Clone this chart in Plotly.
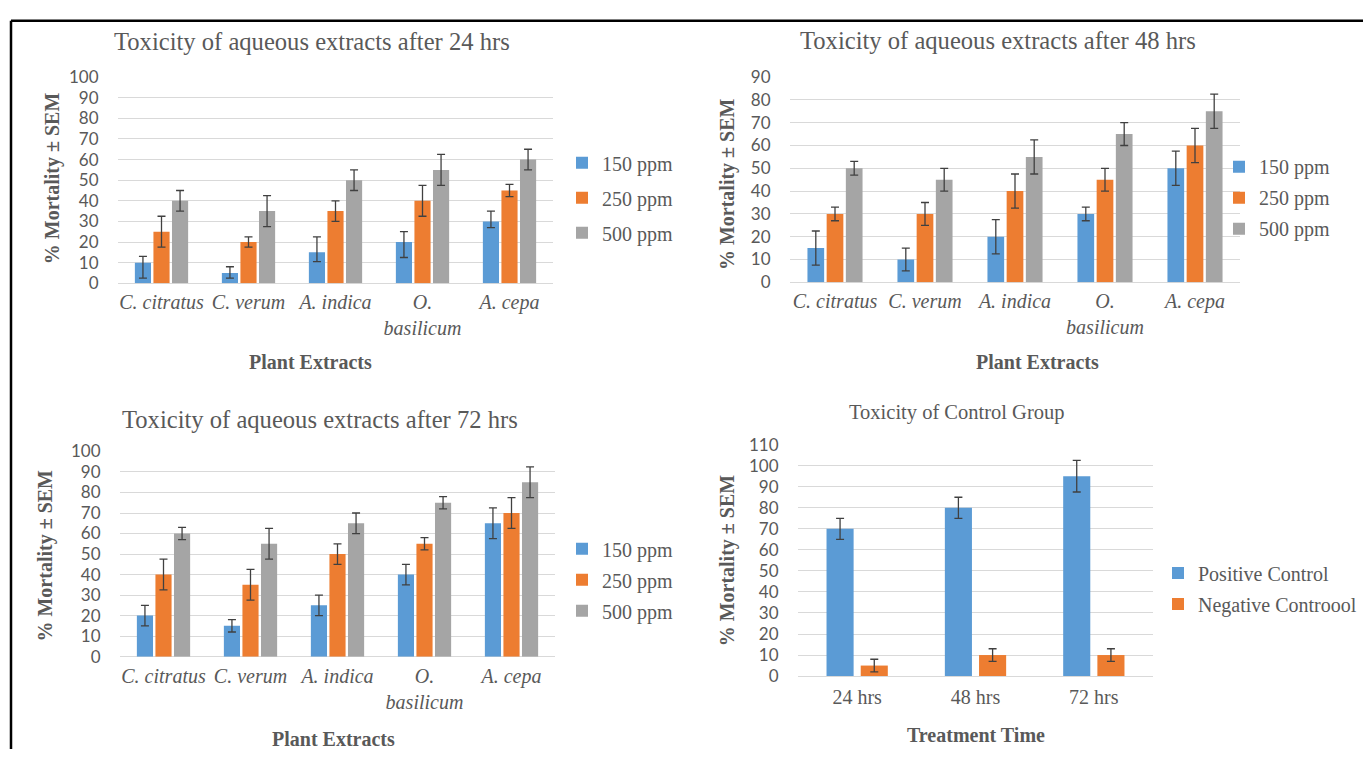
import plotly.graph_objects as go

W, H = 1363, 759

# ---------------- data ----------------
plants = ["C. citratus", "C. verum", "A. indica", "O.<br>basilicum", "A. cepa"]
doses = ["150 ppm", "250 ppm", "500 ppm"]

m24_150 = [10, 5, 15, 20, 30]
m24_250 = [25, 20, 35, 40, 45]
m24_500 = [40, 35, 50, 55, 60]
e24_150_plus = [3, 3, 7.5, 5, 5]
e24_150_minus = [7.5, 2.5, 4.5, 7.5, 3]
e24_250 = [7.5, 2.5, 5, 7.5, 3]
e24_500 = [5, 7.5, 5, 7.5, 5]

m48_150 = [15, 10, 20, 30, 50]
m48_250 = [30, 30, 40, 45, 60]
m48_500 = [50, 45, 55, 65, 75]
e48_150 = [7.5, 5, 7.5, 3, 7.5]
e48_250 = [3, 5, 7.5, 5, 7.5]
e48_500 = [3, 5, 7.5, 5, 7.5]

m72_150 = [20, 15, 25, 40, 65]
m72_250 = [40, 35, 50, 55, 70]
m72_500 = [60, 55, 65, 75, 85]
e72_150 = [5, 3, 5, 5, 7.5]
e72_250 = [7.5, 7.5, 5, 3, 7.5]
e72_500 = [3, 7.5, 5, 3, 7.5]

times = ["24 hrs", "48 hrs", "72 hrs"]
pos_ctrl = [70, 80, 95]
pos_err = [5, 5, 7.5]
neg_ctrl = [5, 10, 10]
neg_err = [3, 3, 3]

# ---------------- style ----------------
BLUE, ORANGE, GRAY = "#5B9BD5", "#ED7D31", "#A5A5A5"
TXT = "#595959"
GRID = "#D9D9D9"
SERIF = "Liberation Serif"
SANS = "Lato"


def px(x):
    return x / W


def py(y):
    return 1 - y / H


def err(arr, minus=None):
    d = dict(type="data", array=arr, color="#404040", thickness=1.3, width=4, visible=True)
    if minus is not None:
        d["symmetric"] = False
        d["arrayminus"] = minus
    return d


fig = go.Figure()

panels = [
    (1, [m24_150, m24_250, m24_500], [err(e24_150_plus, e24_150_minus), err(e24_250), err(e24_500)], "legend"),
    (2, [m48_150, m48_250, m48_500], [err(e48_150), err(e48_250), err(e48_500)], "legend2"),
    (3, [m72_150, m72_250, m72_500], [err(e72_150), err(e72_250), err(e72_500)], "legend3"),
]
colors = [BLUE, ORANGE, GRAY]
for idx, vals, errs, lg in panels:
    ax = "" if idx == 1 else str(idx)
    for name, v, e, c in zip(doses, vals, errs, colors):
        fig.add_trace(go.Bar(x=plants, y=v, name=name, marker=dict(color=c, line=dict(width=0)),
                             error_y=e, xaxis="x" + ax, yaxis="y" + ax, legend=lg,
                             legendgroup=lg + name))

# control group
fig.add_trace(go.Bar(x=times, y=pos_ctrl, name="Positive Control", marker=dict(color=BLUE, line=dict(width=0)),
                     error_y=err(pos_err), xaxis="x4", yaxis="y4", legend="legend4",
                     width=0.229, offset=-0.259, legendgroup="pc"))
fig.add_trace(go.Bar(x=times, y=neg_ctrl, name="Negative Controool", marker=dict(color=ORANGE, line=dict(width=0)),
                     error_y=err(neg_err), xaxis="x4", yaxis="y4", legend="legend4",
                     width=0.229, offset=0.03, legendgroup="nc"))

# ---------------- axes ----------------
xtick_it = dict(family=SERIF, size=20, color=TXT, style="italic")
xtick_up = dict(family=SERIF, size=20, color=TXT)
ytick = dict(family=SANS, size=17, color=TXT)


def xax(x0, x1, anchor, tf, tl):
    return dict(domain=[px(x0), px(x1)], anchor=anchor, type="category", showgrid=False,
                showline=False, zeroline=False, ticks="outside", ticklen=tl,
                tickcolor="rgba(0,0,0,0)", tickfont=tf, fixedrange=True)


def yax(y0pix, ytop, vmax, dt, anchor):
    return dict(domain=[py(y0pix), py(ytop)], anchor=anchor, range=[0, vmax], dtick=dt, tick0=0,
                showgrid=True, gridcolor=GRID, gridwidth=1, zeroline=True, zerolinecolor=GRID,
                zerolinewidth=1, showline=False, ticks="outside", ticklen=15,
                tickcolor="rgba(0,0,0,0)", tickfont=ytick, fixedrange=True)


layout = dict(
    width=W, height=H, margin=dict(l=0, r=0, t=0, b=0),
    paper_bgcolor="white", plot_bgcolor="white",
    barmode="group", bargap=0.36, bargroupgap=0.13,
    xaxis=xax(118, 553, "y", xtick_it, 1),
    yaxis=yax(280, 68, 100, 10, "x"),
    xaxis2=xax(790, 1240, "y2", xtick_it, 1),
    yaxis2=yax(279, 68, 90, 10, "x2"),
    xaxis3=xax(120, 555, "y3", xtick_it, 1),
    yaxis3=yax(664, 453, 100, 10, "x3"),
    xaxis4=xax(798, 1153, "y4", xtick_up, 3),
    yaxis4=yax(684, 446, 110, 10, "x4"),
)

leg_font = dict(family=SERIF, size=20, color=TXT)


def leg(x, ytop, gap):
    return dict(x=px(x), y=py(ytop), xanchor="left", yanchor="top", font=leg_font,
                bgcolor="rgba(0,0,0,0)", borderwidth=0, traceorder="grouped",
                tracegroupgap=gap, itemwidth=30, itemclick=False, itemdoubleclick=False)


layout["legend"] = leg(562, 136, 6)
layout["legend2"] = leg(1219, 140, 2)
layout["legend3"] = leg(562, 533, 2)
layout["legend4"] = leg(1158, 558, 2)

fig.update_layout(**layout)

# ---------------- text annotations ----------------
ann = []


def text(t, x, y, size, bold=False, angle=0):
    ann.append(dict(text=t, x=px(x), y=py(y), xref="paper", yref="paper", showarrow=False,
                    xanchor="center", yanchor="middle", textangle=angle,
                    font=dict(family=SERIF, size=size, color=TXT, weight="bold" if bold else "normal")))


text("Toxicity of aqueous extracts after 24 hrs", 312, 31, 24.6)
text("Toxicity of aqueous extracts after 48 hrs", 998, 30, 24.6)
text("Toxicity of aqueous extracts after 72 hrs", 320, 420, 24.6)
text("Toxicity of Control Group", 957, 413, 20.5)

text("Plant Extracts", 310, 361, 20, bold=True)
text("Plant Extracts", 1037, 361, 20, bold=True)
text("Plant Extracts", 333, 749, 20, bold=True)
text("Treatment Time", 976, 745, 20, bold=True)

text("% Mortality ± SEM", 52, 172, 20, bold=True, angle=-90)
text("% Mortality ± SEM", 727, 178, 20, bold=True, angle=-90)
text("% Mortality ± SEM", 46, 560, 20, bold=True, angle=-90)
text("% Mortality ± SEM", 727, 565, 20, bold=True, angle=-90)

fig.update_layout(annotations=ann)

# frame lines (top and left edges of the figure)
fig.update_layout(shapes=[
    dict(type="line", xref="paper", yref="paper", x0=px(11), x1=1, y0=py(10), y1=py(10),
         line=dict(color="black", width=2.5)),
    dict(type="line", xref="paper", yref="paper", x0=px(11), x1=px(11), y0=py(10), y1=0,
         line=dict(color="black", width=2.5)),
])

fig.write_html(
    "out.html",
    config={"displayModeBar": False},
    post_script=(
        "var s=document.createElement('style');"
        "s.textContent='html,body{margin:0!important;padding:0!important;overflow:hidden!important;}';"
        "document.head.appendChild(s);"
    ),
)
